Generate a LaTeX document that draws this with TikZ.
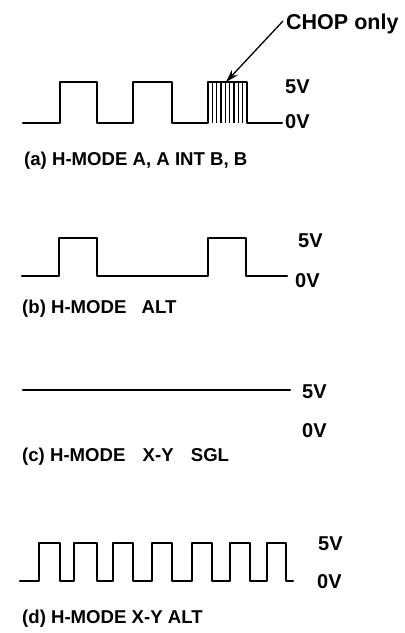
\documentclass[tikz,border=0pt]{standalone}
\usepackage{fontspec}
\setmainfont{Liberation Sans}
\usetikzlibrary{arrows.meta}
\begin{document}
\begin{tikzpicture}[x=1pt,y=-1pt,
  wave/.style={line width=2.2pt, line join=round, line cap=round},
  chopline/.style={line width=1.3pt},
  lvl/.style={font=\bfseries\fontsize{20}{20}\selectfont, anchor=base west, inner sep=0pt},
  captext/.style={font=\bfseries\fontsize{18.6}{19}\selectfont, anchor=base west, inner sep=0pt},
  note/.style={font=\bfseries\fontsize{21.5}{22}\selectfont, anchor=base west, inner sep=0pt},
  pointer/.style={line width=1.3pt, -{Stealth[length=13pt,width=8pt]}}]
\useasboundingbox (0,0) rectangle (405,633);
% ---------- (a)
\draw[wave] (23,123) -- (60,123) -- (60,82) -- (97,82) -- (97,123) -- (133,123) -- (133,82) -- (172,82) -- (172,123) -- (208,123) -- (208,82) -- (247,82) -- (247,123) -- (282,123);
\foreach \k in {1,...,8} {\draw[chopline] ({208+4.33*\k},82) -- ({208+4.33*\k},123);}
\node[lvl] (a5) at (285,93) {5V};
\node[lvl] (a0) at (285,128.5) {0V};
\node[note] (chop) at (286,29) {CHOP only};
\coordinate (chopstart) at (283,21);
\coordinate (choptop) at (226,82);
\draw[pointer] (chopstart) -- (choptop);
\node[captext] (capa) at (24,165.5) {(a) H-MODE A, A INT B, B};
% ---------- (b)
\draw[wave] (22,276) -- (59,276) -- (59,238) -- (97,238) -- (97,276) -- (208,276) -- (208,238) -- (246,238) -- (246,276) -- (287,276);
\node[lvl] (b5) at (298,247) {5V};
\node[lvl] (b0) at (295,287) {0V};
\node[captext] (capb) at (22,313) {(b) H-MODE\hspace{10pt} ALT};
% ---------- (c)
\draw[wave] (23,390) -- (290,390);
\node[lvl] (c5) at (302,398) {5V};
\node[lvl] (c0) at (302,437) {0V};
\node[captext] (capc) at (22,461) {(c) H-MODE\hspace{12pt} X-Y\hspace{12pt} SGL};
% ---------- (d)
\draw[wave] (20,581) -- (39,581) -- (39,543) -- (60,543) -- (60,581) -- (74,581) -- (74,543) -- (97,543) -- (97,581) -- (113,581) -- (113,543) -- (133,543) -- (133,581) -- (152,581) -- (152,543) -- (172,543) -- (172,581) -- (192,581) -- (192,543) -- (212,543) -- (212,581) -- (230,581) -- (230,543) -- (250,543) -- (250,581) -- (267,581) -- (267,543) -- (286,543) -- (286,581) -- (293,581);
\node[lvl] (d5) at (318,550) {5V};
\node[lvl] (d0) at (317,588) {0V};
\node[captext] (capd) at (22,623) {(d) H-MODE X-Y ALT};
\end{tikzpicture}
\end{document}
